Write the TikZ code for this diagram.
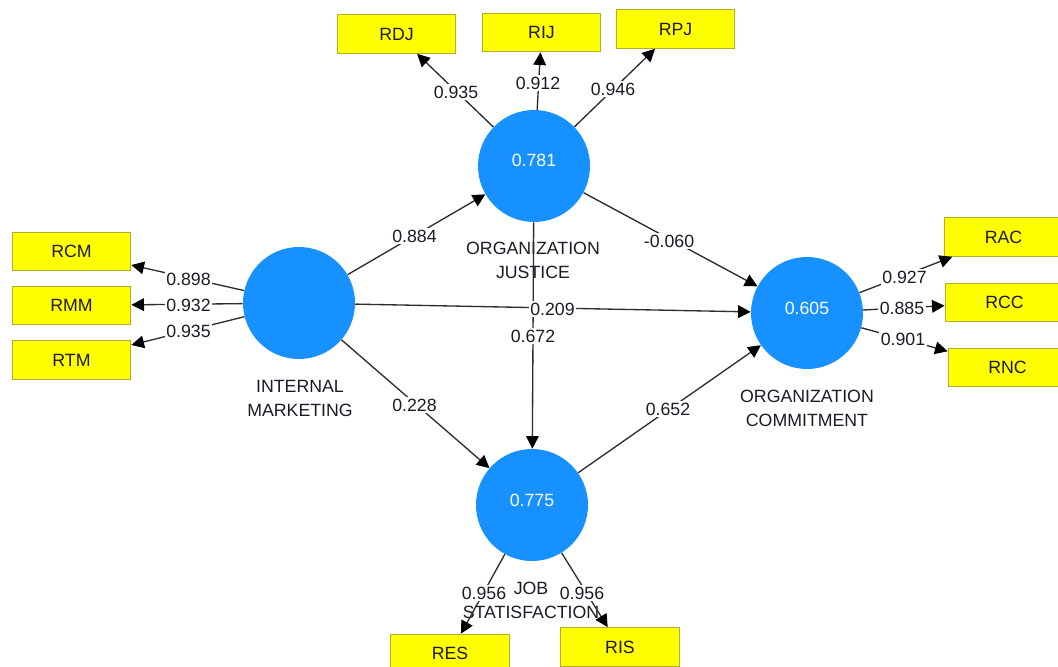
\documentclass[tikz,border=0pt]{standalone}
\usepackage{fontspec}
\setmainfont{Liberation Sans}
\usetikzlibrary{arrows.meta}
\definecolor{lvblue}{RGB}{22,145,255}
\definecolor{indyel}{RGB}{255,255,0}
\definecolor{indedge}{RGB}{175,175,40}
\definecolor{linegray}{RGB}{45,45,45}
\definecolor{txtdark}{RGB}{30,25,40}
\begin{document}
\begin{tikzpicture}[x=0.75pt,y=-0.75pt,
  lv/.style={circle, fill=lvblue, minimum size=84pt, inner sep=0pt, text=white, font=\fontsize{13.3}{16}\selectfont},
  lvval/.style={text=white, inner sep=0pt, font=\fontsize{13.3}{16}\selectfont},
  ind/.style={rectangle, fill=indyel, draw=indedge, line width=0.75pt, minimum width=89pt, minimum height=29pt, inner sep=0pt, text=txtdark, font=\fontsize{13.3}{16}\selectfont},
  lbl/.style={fill=white, inner sep=1.2pt, text=txtdark, font=\fontsize{13.3}{16}\selectfont},
  nm/.style={align=center, text=txtdark, font=\fontsize{13.3}{18}\selectfont, inner sep=0pt},
  conn/.style={draw=linegray, line width=1pt, -{Triangle[length=9.5pt,width=9.5pt,color=black]}}]
\useasboundingbox (0,0) rectangle (1058,667);
\fill[white] (0,0) rectangle (1058,667);

% latent variables
\node[lv] (im) at (299,303) {};
\node[lv] (oj) at (534,166) {};
\node[lv] (oc) at (807,313) {};
\node[lv] (js) at (532,505) {};
\node[lvval] (ojv) at (534,160) {0.781};
\node[lvval] (ocv) at (807,308) {0.605};
\node[lvval] (jsv) at (532,500) {0.775};

% indicators
\node[ind] (rcm) at (71.5,251.5) {RCM};
\node[ind] (rmm) at (71.5,305.5) {RMM};
\node[ind] (rtm) at (71.5,360) {RTM};
\node[ind] (rdj) at (396.5,34) {RDJ};
\node[ind] (rij) at (541.5,32.5) {RIJ};
\node[ind] (rpj) at (675.5,29) {RPJ};
\node[ind] (rac) at (1003.5,237) {RAC};
\node[ind] (rcc) at (1004.5,302.5) {RCC};
\node[ind] (rnc) at (1007.5,367.5) {RNC};
\node[ind] (res) at (450,653.5) {RES};
\node[ind] (ris) at (620,647) {RIS};

% names
\node[nm] (imname) at (300,398) {INTERNAL\\MARKETING};
\node[nm] (ojname) at (533,260) {ORGANIZATION\\JUSTICE};
\node[nm] (ocname) at (807,408) {ORGANIZATION\\COMMITMENT};
\node[nm] (jsname) at (531,600) {JOB\\STATISFACTION};

% connectors
\draw[conn] (im) -- (rcm);
\draw[conn] (im) -- (rmm);
\draw[conn] (im) -- (rtm);
\draw[conn] (oj) -- (rdj);
\draw[conn] (oj) -- (rij);
\draw[conn] (oj) -- (rpj);
\draw[conn] (oc) -- (rac);
\draw[conn] (oc) -- (rcc);
\draw[conn] (oc) -- (rnc);
\draw[conn] (js) -- (res);
\draw[conn] (js) -- (ris);
\draw[conn] (im) -- (oj);
\draw[conn] (oj) -- (oc);
\draw[conn] (im) -- (oc);
\draw[conn] (im) -- (js);
\draw[conn] (js) -- (oc);
\draw[conn] (oj) -- (js);

% coefficients
\node[lbl] (l1) at (188.5,279) {0.898};
\node[lbl] (l2) at (188.5,305) {0.932};
\node[lbl] (l3) at (188.5,331) {0.935};
\node[lbl] (l4) at (456,92) {0.935};
\node[lbl] (l5) at (538,83) {0.912};
\node[lbl] (l6) at (613,89) {0.946};
\node[lbl] (l7) at (414.5,236) {0.884};
\node[lbl] (l8) at (669,241) {-0.060};
\node[lbl] (l9) at (552.5,309) {0.209};
\node[lbl] (l10) at (533,336) {0.672};
\node[lbl] (l11) at (414.5,405) {0.228};
\node[lbl] (l12) at (668,409) {0.652};
\node[lbl] (l13) at (904.5,277) {0.927};
\node[lbl] (l14) at (902,308) {0.885};
\node[lbl] (l15) at (903,339) {0.901};
\node[lbl] (l16) at (484,593) {0.956};
\node[lbl] (l17) at (582,593) {0.956};
\end{tikzpicture}
\end{document}
